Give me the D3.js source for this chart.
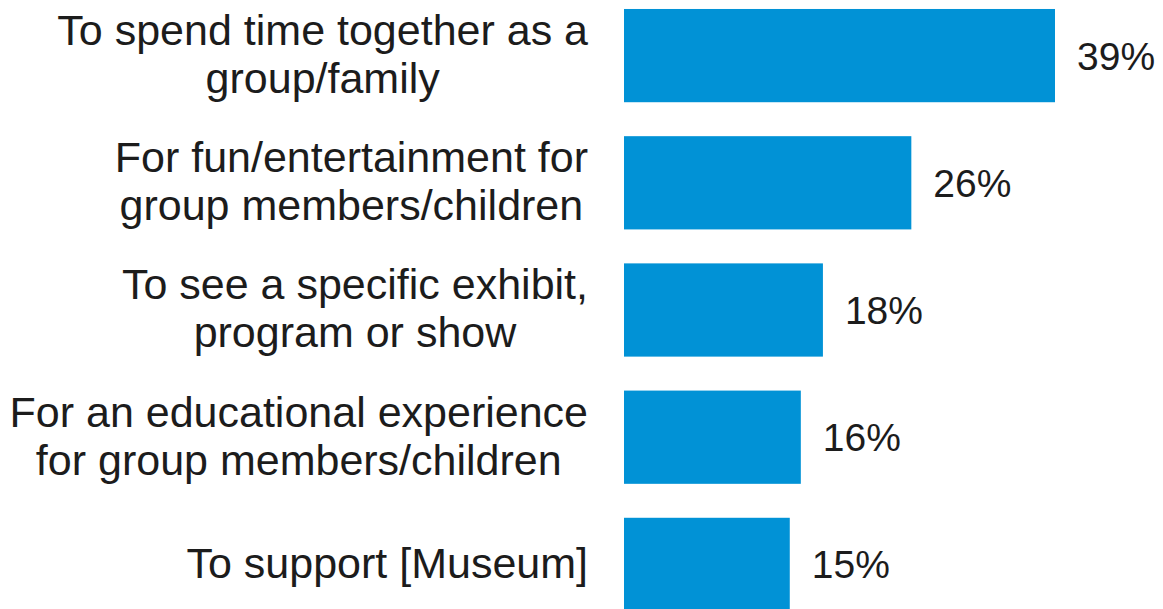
<!DOCTYPE html>
<html>
<head>
<meta charset="utf-8">
<script src="https://cdn.jsdelivr.net/npm/d3@7"></script>
<style>
  html, body { margin: 0; padding: 0; background: #ffffff; }
  svg { display: block; }
  text { font-family: "Liberation Sans", Arial, sans-serif; fill: #1c1c1c; }
</style>
</head>
<body>
<svg id="chart" width="1163" height="609"></svg>
<script>
// Reasons for visiting, share of respondents (%)
const categories = [
  "To spend time together as a|group/family",
  "For fun/entertainment for|group members/children",
  "To see a specific exhibit,|program or show",
  "For an educational experience|for group members/children",
  "To support [Museum]"
];
const values = [39, 26, 18, 16, 15];
const valueLabels = ["39%", "26%", "18%", "16%", "15%"];

const svg = d3.select("#chart");
const barColor = "#0192d6";

const x = d3.scaleLinear().domain([0, 39]).range([624, 1055]);
const y = d3.scaleBand()
  .domain(categories)
  .range([-8, 628])
  .paddingInner(0.267)
  .paddingOuter(0.1335);

// Bars
svg.append("g")
  .selectAll("rect")
  .data(categories)
  .join("rect")
  .attr("x", x(0))
  .attr("y", d => y(d))
  .attr("width", (d, i) => x(values[i]) - x(0))
  .attr("height", y.bandwidth())
  .attr("fill", barColor);

// Value labels
svg.append("g")
  .selectAll("text")
  .data(categories)
  .join("text")
  .attr("x", (d, i) => x(values[i]) + 22)
  .attr("y", d => y(d) + y.bandwidth() / 2)
  .attr("dy", "0.36em")
  .style("font-size", "39px")
  .text((d, i) => valueLabels[i]);

// Category labels: lines centred on each other, block right-aligned next to the axis
const labelRight = 588;
const lineHeight = 48;
const labels = svg.append("g");
categories.forEach(cat => {
  const lines = cat.split("|");
  const cy = y(cat) + y.bandwidth() / 2 - 2;
  const t = labels.append("text")
    .style("font-size", "43px")
    .attr("text-anchor", "middle");
  lines.forEach((line, j) => {
    t.append("tspan")
      .attr("x", 0)
      .attr("y", cy + (j - (lines.length - 1) / 2) * lineHeight)
      .attr("dy", "0.36em")
      .text(line);
  });
  const maxW = d3.max(t.selectAll("tspan").nodes(), n => n.getComputedTextLength());
  t.selectAll("tspan").attr("x", labelRight - maxW / 2);
});
</script>
</body>
</html>
